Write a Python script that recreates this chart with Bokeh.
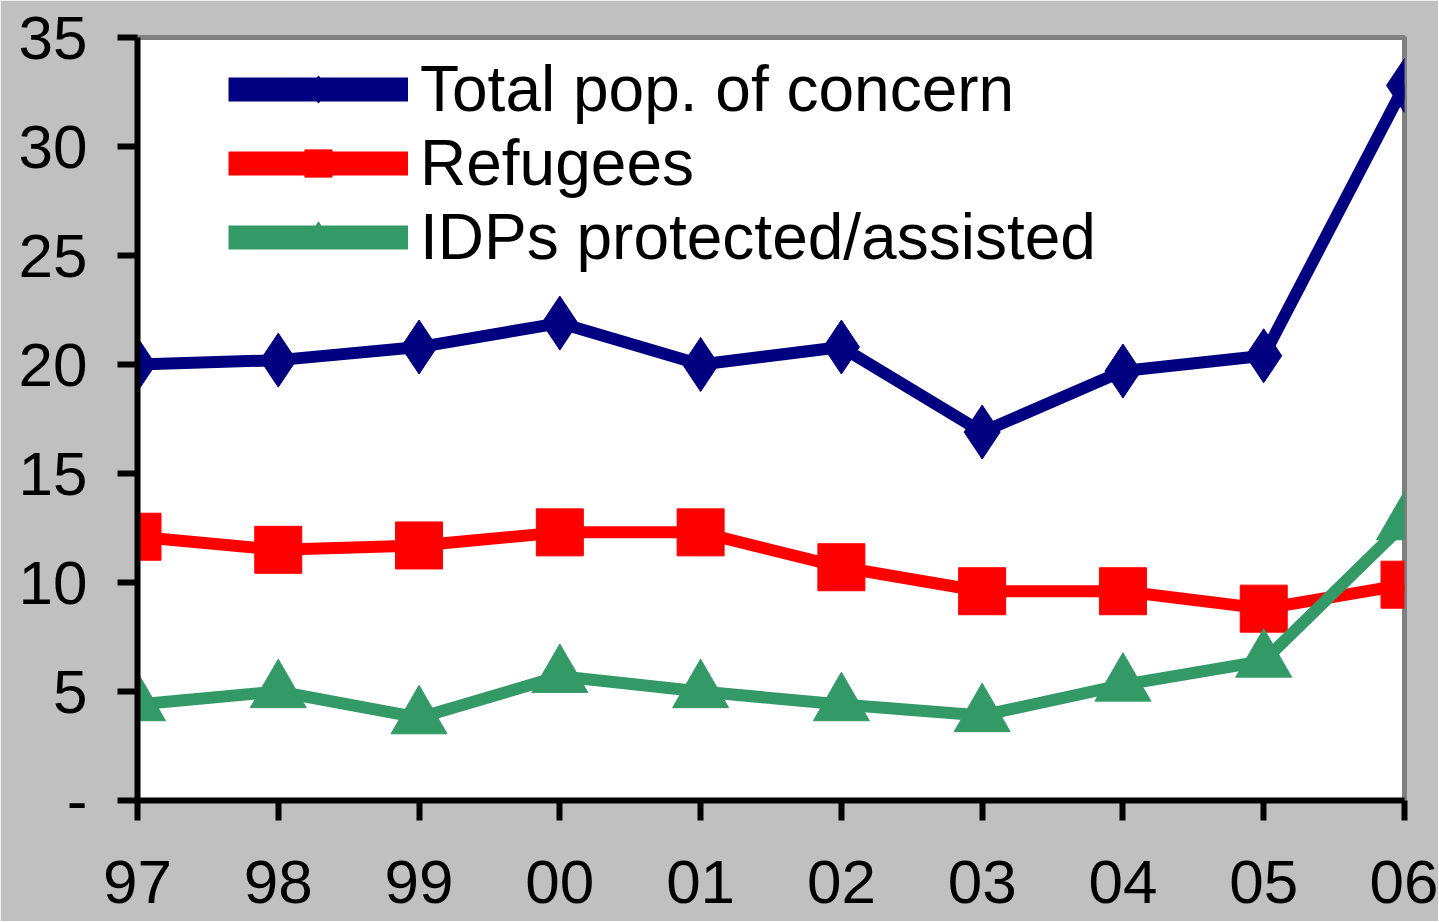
from bokeh.plotting import figure
from bokeh.models import Range1d, FixedTicker, Legend, LegendItem
from bokeh.embed import file_html
from bokeh.resources import INLINE

# ---- data ----
years = ["97", "98", "99", "00", "01", "02", "03", "04", "05", "06"]
total = [20.0, 20.2, 20.8, 21.9, 20.0, 20.8, 16.9, 19.7, 20.4, 32.8]
refugees = [12.1, 11.5, 11.7, 12.3, 12.3, 10.7, 9.6, 9.6, 8.8, 9.9]
idps = [4.4, 5.0, 3.8, 5.7, 5.0, 4.4, 3.9, 5.3, 6.4, 12.7]
y_ticks = [0, 5, 10, 15, 20, 25, 30, 35]
series_names = ["Total pop. of concern", "Refugees", "IDPs protected/assisted"]

xs = list(range(len(years)))

NAVY = "#000080"
RED = "#FF0000"
GREEN = "#339966"
BG = "#c0c0c0"
FONT = "Liberation Sans"

p = figure(frame_width=1267, frame_height=763,
           min_border_left=137, min_border_right=34,
           min_border_top=37, min_border_bottom=121,
           x_range=Range1d(0, len(years) - 1), y_range=Range1d(0, 35),
           output_backend="svg", toolbar_location=None,
           background_fill_color="white", border_fill_color=BG)

p.outline_line_color = "#808080"
p.outline_line_width = 5
p.xgrid.visible = False
p.ygrid.visible = False

p.xaxis.ticker = FixedTicker(ticks=xs)
p.xaxis.major_label_overrides = {i: lab for i, lab in enumerate(years)}
p.yaxis.ticker = FixedTicker(ticks=y_ticks)
p.yaxis.major_label_overrides = {0: "-"}

for ax in (p.xaxis, p.yaxis):
    ax.axis_line_color = "black"
    ax.axis_line_width = 6
    ax.major_tick_line_color = "black"
    ax.major_tick_line_width = 6
    ax.major_tick_out = 20
    ax.major_tick_in = 0
    ax.minor_tick_out = 0
    ax.minor_tick_in = 0
    ax.major_label_text_font = FONT
    ax.major_label_text_font_size = "62px"
    ax.major_label_text_color = "black"
p.yaxis.major_label_standoff = 30
p.xaxis.major_label_standoff = 40

specs = [
    (total, NAVY, "diamond", 54),
    (refugees, RED, "square", 47),
    (idps, GREEN, "triangle", 56),
]

p.extra_y_ranges = {"legend_hidden": Range1d(-1000, -900)}

items = []
for (vals, col, mk, sz), name in zip(specs, series_names):
    p.line(xs, vals, line_color=col, line_width=12)
    p.scatter(xs, vals, marker=mk, size=sz, fill_color=col, line_color=col)
    # legend-only renderers (drawn outside the visible range)
    lr = p.line(xs, vals, line_color=col, line_width=24, y_range_name="legend_hidden")
    sr = p.scatter(xs, vals, marker=mk, size=sz, fill_color=col, line_color=col,
                   y_range_name="legend_hidden")
    items.append(LegendItem(label=name, renderers=[lr, sr]))

legend = Legend(items=items, location=(91, 526),
                glyph_width=180, glyph_height=68, label_height=68,
                spacing=0, padding=0, margin=0, label_standoff=12,
                label_text_font=FONT, label_text_font_size="64px",
                label_text_color="black",
                background_fill_alpha=0, border_line_alpha=0)
p.add_layout(legend)

html = file_html(p, INLINE)
html = html.replace("<body>", '<body style="background-color:#c0c0c0;">', 1)
open("out.html", "w").write(html)
